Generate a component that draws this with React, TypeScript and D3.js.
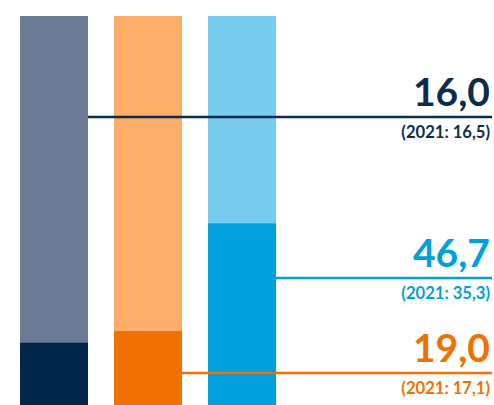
import React from "react";
import * as d3 from "d3";

const categories = ["navy", "orange", "blue"];
const values = [16.0, 19.0, 46.7];
const prevValues = [16.5, 17.1, 35.3];
const prevYear = "2021";

const lightColors = ["#6b7a94", "#fdad6a", "#78cdef"];
const darkColors = ["#022648", "#f07000", "#00a0dc"];
const textColors = ["#0c2c4e", "#f07000", "#00a0dc"];
// label line positions (layout, px)
const lineY = [117, 373, 278];

const W = 494;
const H = 405;

const fmt = (v: number) => v.toFixed(1).replace(".", ",");

export default function App() {
  const x = d3.scaleBand<string>().domain(categories).range([20, 276]).paddingInner(26 / 94).paddingOuter(0);
  const y = d3.scaleLinear().domain([0, 100]).range([405, 16]);
  const bw = x.bandwidth();
  const fontFamily = "Lato, 'Open Sans', sans-serif";
  const order = [0, 2, 1];
  return (
    <svg width={W} height={H} style={{ position: "absolute", left: 0, top: 0 }}>
      <rect width={W} height={H} fill="#fff" />
      {categories.map((c, i) => (
        <g key={c}>
          <rect x={x(c)} y={y(100)} width={bw} height={y(0) - y(100)} fill={lightColors[i]} />
          <rect x={x(c)} y={y(values[i])} width={bw} height={y(0) - y(values[i])} fill={darkColors[i]} />
        </g>
      ))}
      {order.map((i) => {
        const c = categories[i];
        const ly = lineY[i];
        return (
          <g key={"l" + c}>
            <line x1={(x(c) as number) + bw} x2={492} y1={ly} y2={ly} stroke={textColors[i]} strokeWidth={2.4} />
            <text
              x={490}
              y={ly - 11}
              textAnchor="end"
              fill={textColors[i]}
              fontFamily={fontFamily}
              fontWeight={700}
              fontSize={39}
            >
              {fmt(values[i])}
            </text>
            <text
              x={490}
              y={ly + 21}
              textAnchor="end"
              fill={textColors[i]}
              fontFamily={fontFamily}
              fontWeight={700}
              fontSize={16.6}
            >
              {`(${prevYear}: ${fmt(prevValues[i])})`}
            </text>
          </g>
        );
      })}
    </svg>
  );
}
